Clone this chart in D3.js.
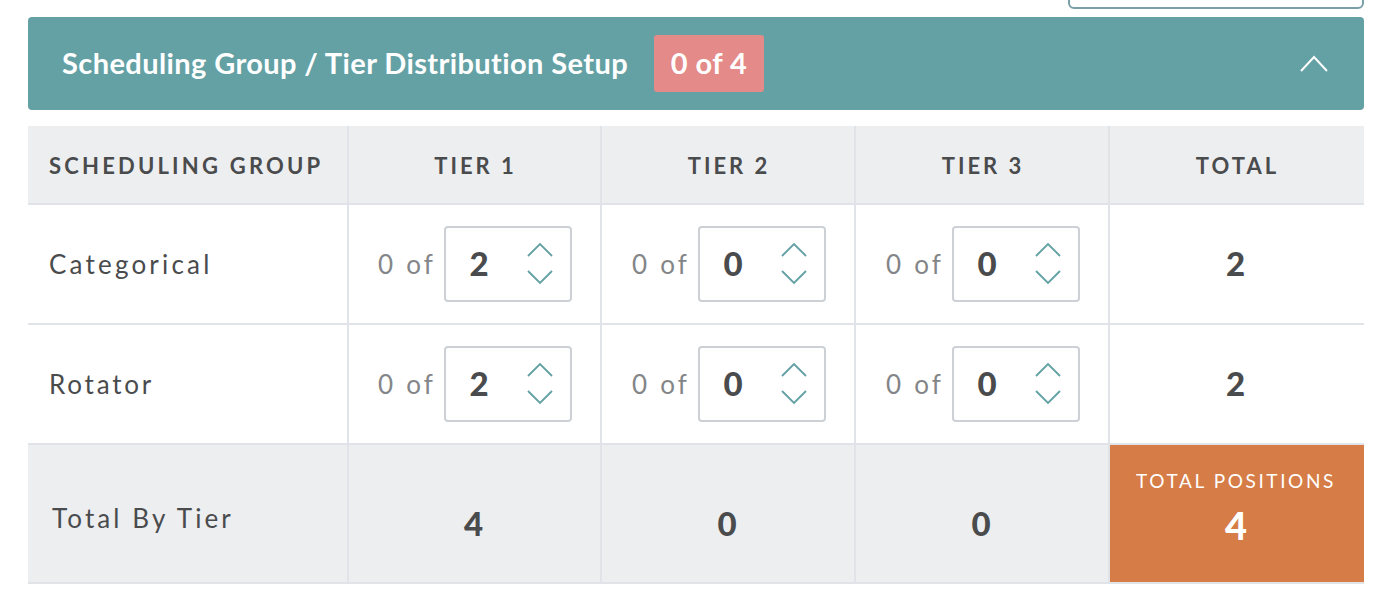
<!DOCTYPE html>
<html>
<head>
<meta charset="utf-8">
<script src="https://cdn.jsdelivr.net/npm/d3@7"></script>
<style>
  html, body { margin: 0; padding: 0; background: #fff; overflow: hidden; }
  text { font-family: Lato, "Noto Sans", sans-serif; }
</style>
</head>
<body>
<svg id="chart" width="1394" height="602"></svg>
<script>
const title = 'Scheduling Group / Tier Distribution Setup'
const badge = '0 of 4'
const columns = ['SCHEDULING GROUP', 'TIER 1', 'TIER 2', 'TIER 3', 'TOTAL']
const groups = ['Categorical', 'Rotator']
const groupSpacing = [3.2, 2.8]
const assigned = [[0, 0, 0], [0, 0, 0]]
const tierValues = [[2, 0, 0], [2, 0, 0]]
const rowTotals = [2, 2]
const footLabel = 'Total By Tier'
const tierTotals = [4, 0, 0]
const totalLabel = 'TOTAL POSITIONS'
const totalPositions = 4

const TEAL = '#64a1a5', LINE = '#e0e3e7', GREY = '#edeef0', INK = '#4a4b4d'

// column and row edges are uneven, so plain ordinal scales do the lookup
const colLeft = d3.scaleOrdinal().domain(columns).range([28, 348, 601, 855, 1109])
const colRight = d3.scaleOrdinal().domain(columns).range([348, 601, 855, 1109, 1364])
const rowKeys = ['head', ...groups, 'foot']
const rowTop = d3.scaleOrdinal().domain(rowKeys).range([126, 204, 324, 444])
const rowBottom = d3.scaleOrdinal().domain(rowKeys).range([204, 324, 444, 583])

const svg = d3.select('#chart')
const tiers = columns.slice(1, 4)
// the steppers sit on an even 254px pitch, unlike the grid lines
const stepperLeft = d3.scaleOrdinal().domain(tiers).range([348, 602, 856])

function label(g, x, y, txt, size, weight, fill, spacing, anchor) {
    return g.append('text')
        .attr('x', x).attr('y', y)
        .attr('font-size', size)
        .attr('font-weight', weight)
        .attr('fill', fill)
        .attr('letter-spacing', spacing)
        .attr('text-anchor', anchor || 'middle')
        .attr('dominant-baseline', 'central')
        .text(txt)
}

function chevron(g, cx, cy, halfW, halfH, up, stroke, width) {
    const dir = up ? -1 : 1
    g.append('path')
        .attr('d', d3.line()([[cx - halfW, cy - dir * halfH], [cx, cy + dir * halfH], [cx + halfW, cy - dir * halfH]]))
        .attr('fill', 'none')
        .attr('stroke', stroke)
        .attr('stroke-width', width)
}

// bit of the box above the panel
svg.append('rect')
    .attr('x', 1069).attr('y', -20).attr('width', 294).attr('height', 28).attr('rx', 5)
    .attr('fill', '#fff').attr('stroke', '#7b9fa8').attr('stroke-width', 2)

// title bar
const bar = svg.append('g')
bar.append('rect').attr('x', 28).attr('y', 17).attr('width', 1336).attr('height', 93).attr('rx', 4).attr('fill', TEAL)
label(bar, 62, 62, title, 29, 700, '#fff', 0.4, 'start')
bar.append('rect').attr('x', 654).attr('y', 35).attr('width', 110).attr('height', 57).attr('rx', 3).attr('fill', '#e48a88')
label(bar, 709, 62, badge, 29, 700, '#fff', 0.4)
chevron(bar, 1314, 64, 13, 7, true, '#fff', 2)

// grey bands
svg.append('rect').attr('x', 28).attr('y', rowTop('head')).attr('width', 1336).attr('height', rowBottom('head') - rowTop('head')).attr('fill', GREY)
svg.append('rect').attr('x', 28).attr('y', rowTop('foot')).attr('width', 1336).attr('height', rowBottom('foot') - rowTop('foot')).attr('fill', GREY)

// orange total cell
const lastCol = columns[4]
svg.append('rect')
    .attr('x', colLeft(lastCol) + 1).attr('y', rowTop('foot') + 1)
    .attr('width', colRight(lastCol) - colLeft(lastCol) - 1).attr('height', rowBottom('foot') - rowTop('foot') - 1)
    .attr('fill', '#d67c47')

// grid lines
svg.append('g').selectAll('line').data(columns.slice(1)).join('line')
    .attr('x1', d => colLeft(d)).attr('x2', d => colLeft(d))
    .attr('y1', rowTop('head')).attr('y2', rowBottom('foot'))
    .attr('stroke', LINE).attr('stroke-width', 2)
svg.append('g').selectAll('line').data(rowKeys).join('line')
    .attr('x1', 28).attr('x2', 1364)
    .attr('y1', d => rowBottom(d)).attr('y2', d => rowBottom(d))
    .attr('stroke', LINE).attr('stroke-width', 2)

// header
const head = svg.append('g')
columns.forEach((c, i) => {
    if (i === 0) label(head, 49, 165, c, 22, 700, INK, 3.2, 'start')
    else label(head, (colLeft(c) + colRight(c)) / 2 + 1, 165, c, 22, 700, INK, 3)
})

// body rows
groups.forEach((name, r) => {
    const g = svg.append('g')
    const y = (rowTop(name) + rowBottom(name)) / 2
    label(g, 49, y, name, 26, 400, INK, groupSpacing[r], 'start')
    tiers.forEach((t, c) => {
        const left = stepperLeft(t)
        label(g, left + 30, y, assigned[r][c] + ' of', 26, 400, '#838588', 3.2, 'start')
        g.append('rect')
            .attr('x', left + 97).attr('y', y - 37).attr('width', 126).attr('height', 74).attr('rx', 3)
            .attr('fill', '#fff').attr('stroke', '#cdd1d5').attr('stroke-width', 2)
        label(g, left + 131, y - 1, tierValues[r][c], 33, 900, INK, 0)
        chevron(g, left + 192, y - 14, 12, 6, true, TEAL, 1.9)
        chevron(g, left + 192, y + 13, 12, 6, false, TEAL, 1.9)
    })
    label(g, (colLeft(lastCol) + colRight(lastCol)) / 2 - 1, y - 1, rowTotals[r], 33, 900, INK, 0)
})

// footer
const foot = svg.append('g')
label(foot, 52, 518, footLabel, 26, 400, INK, 3.1, 'start')
tiers.forEach((t, c) => {
    label(foot, (colLeft(t) + colRight(t)) / 2 - 1, 523, tierTotals[c], 33, 900, INK, 0)
})
label(foot, 1236, 480, totalLabel, 19, 400, '#fff', 2.6)
label(foot, 1236, 525, totalPositions, 38, 900, '#fff', 0)
</script>
</body>
</html>
